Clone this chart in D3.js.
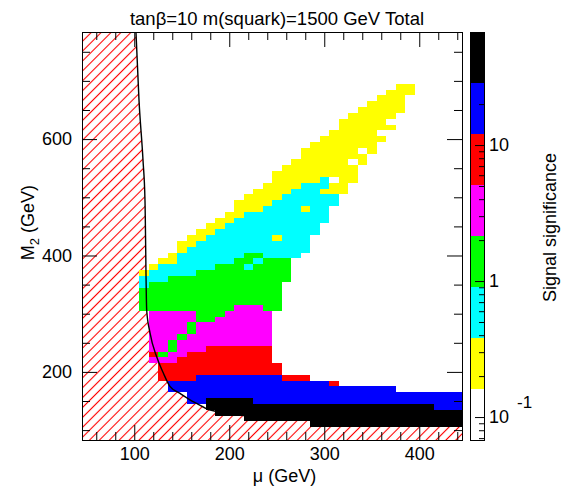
<!DOCTYPE html>
<html>
<head>
<meta charset="utf-8">
<script src="https://cdn.jsdelivr.net/npm/d3@7/dist/d3.min.js"></script>
<style>
body { margin: 0; background: #ffffff; }
text { font-family: "Liberation Sans", Arial, sans-serif; }
</style>
</head>
<body>
<svg></svg>
<script>
/*global d3*/

// 文字
let title = 'tanβ=10 m(squark)=1500 GeV Total';
let xTitle = 'μ (GeV)';
let barTitle = 'Signal significance';

// 颜色分档（信号显著性）
let levelEdges = [0.0678, 0.161, 0.381, 0.904, 2.14, 5.08, 12.05, 28.6, 67.8];
let levelColors = ['#ffffff', '#ffff00', '#00ffff', '#00ff00', '#ff00ff', '#ff0000', '#0000ff', '#000000'];
let levelValues = [0.10, 0.25, 0.59, 1.4, 3.3, 7.8, 18.6, 44];

// 网格行 M2 (GeV)，每格 10 GeV
let rowM2 = [690, 680, 670, 660, 650, 640, 630, 620, 610, 600,
    590, 580, 570, 560, 550, 540, 530, 520, 510, 500,
    490, 480, 470, 460, 450, 440, 430, 420, 410, 400,
    390, 380, 370, 360, 350, 340, 330, 320, 310, 300,
    290, 280, 270, 260, 250, 240, 230, 220, 210, 200,
    190, 180, 170, 160, 150, 140, 130, 120, 110];

// 每行第一格的 μ (GeV)
let rowStartMu = [380, 370, 360, 350, 340, 330, 320, 320, 310, 300,
    290, 280, 280, 270, 260, 250, 250, 240, 230, 220,
    210, 210, 200, 190, 180, 170, 160, 150, 150, 140,
    130, 120, 110, 110, 110, 110, 110, 110, 110, 120,
    120, 120, 120, 120, 120, 120, 120, 120, 130, 130,
    130, 140, 140, 160, 160, 180, 190, 220, 290];

// 每格的显著性档位（'.' 为空）
let rowLevels = [
    '11',
    '111',
    '111',
    '1111',
    '11111',
    '11111',
    '11111',
    '111111',
    '11111',
    '1111111',
    '1111111',
    '111111.1',
    '1111111',
    '111111.1',
    '11111111',
    '111111111',
    '111112.11',
    '111122211',
    '1111222111',
    '1111222222',
    '11112222222',
    '1112222122',
    '11222222222',
    '112222222222',
    '112222222222',
    '1122222222222',
    '1122222221222',
    '11222222222222',
    '12222222222222',
    '12222222332222',
    '11222222332333',
    '122222233323333',
    '1222223333333333',
    '2223333333333333',
    '233333333333333',
    '333333333333333',
    '333333333333333',
    '333333333333333',
    '333333333344433',
    '4444433344444',
    '4444433444444',
    '4444344444444',
    '4444344444444',
    '4443444444444',
    '4434444444444',
    '4434445555555',
    '5344555555555',
    '4445555555555',
    '5555555555555',
    '5555555555555',
    '5555666666666555',
    '666666666666666665',
    '666666666666666666666666',
    '66666666666666666666666666666',
    '66777776666666666666666666666',
    '777777777777777777777777666',
    '77777777777777777777777777',
    '77777777777777777777777',
    '7777777777777777'
];

// LEP 限制曲线
let lepMu = [101.8, 105, 109.2, 111.3, 113.1, 116.6, 123.6, 130.6, 137.6, 148.2, 158.7, 165.7, 180, 232, 306, 445];
let lepM2 = [784, 667, 564, 495, 306, 267, 226, 198, 175, 163, 152, 146, 134.5, 122.5, 115.5, 110.5];

// 刻度
let xMajor = [100, 200, 300, 400];
let xMinor = [60, 80, 120, 140, 160, 180, 220, 240, 260, 280, 320, 340, 360, 380, 420, 440];
let yMajor = [200, 400, 600];
let yMinor = [100, 150, 250, 300, 350, 450, 500, 550, 650, 700, 750];
let barMajor = [0.1, 1, 10];
let barMinor = [0.07, 0.08, 0.09, 0.2, 0.3, 0.4, 0.5, 0.6, 0.7, 0.8, 0.9,
    2, 3, 4, 5, 6, 7, 8, 9, 20, 30, 40, 50, 60];

// 画布
let width = 563;
let height = 488;
let plotLeft = 82, plotRight = 462, plotTop = 32, plotBottom = 440;
let barLeft = 470, barRight = 484;

let svg = d3.select('svg')
    .attr('width', width)
    .attr('height', height);

svg.append('rect').attr('width', width).attr('height', height).attr('fill', '#fff');

// 比例尺
let x = d3.scaleLinear().domain([45, 445]).range([plotLeft, plotRight]);
let y = d3.scaleLinear().domain([83, 784]).range([plotBottom, plotTop]);
let yBar = d3.scaleLog().domain([levelEdges[0], levelEdges[8]]).range([plotBottom, plotTop]);
let color = d3.scaleThreshold().domain(levelEdges.slice(1, 8)).range(levelColors);

let defs = svg.append('defs');
defs.append('clipPath').attr('id', 'plot-clip')
    .append('rect')
    .attr('x', plotLeft).attr('y', plotTop)
    .attr('width', plotRight - plotLeft).attr('height', plotBottom - plotTop);

let hatch = defs.append('pattern')
    .attr('id', 'hatch')
    .attr('patternUnits', 'userSpaceOnUse')
    .attr('width', 7).attr('height', 7)
    .attr('patternTransform', 'rotate(45)');
hatch.append('line')
    .attr('x1', 3.5).attr('y1', 0).attr('x2', 3.5).attr('y2', 7)
    .attr('stroke', '#ff0000').attr('stroke-width', 1.1);

let plot = svg.append('g').attr('clip-path', 'url(#plot-clip)');

// 排除区域（斜线）
let lepPoints = lepMu.map((m, i) => [m, lepM2[i]]);
let lepLine = d3.line().x(d => x(d[0])).y(d => y(d[1])).curve(d3.curveMonotoneX);

plot.append('path')
    .attr('d', lepLine(lepPoints)
        + 'L' + x(445) + ',' + y(83)
        + 'L' + x(45) + ',' + y(83)
        + 'L' + x(45) + ',' + y(784) + 'Z')
    .attr('fill', 'url(#hatch)');

// 网格数据
let cells = [];
rowM2.forEach((m2, r) => {
    rowLevels[r].split('').forEach((c, k) => {
        if (c === '.') {
            return;
        }
        cells.push({mu: rowStartMu[r] + 10 * k, m2: m2, sig: levelValues[+c]});
    });
});

plot.append('g')
    .selectAll('rect')
    .data(cells)
    .enter()
    .append('rect')
    .attr('x', d => x(d.mu - 5))
    .attr('y', d => y(d.m2 + 5))
    .attr('width', d => x(d.mu + 5) - x(d.mu - 5))
    .attr('height', d => y(d.m2 - 5) - y(d.m2 + 5))
    .attr('fill', d => color(d.sig))
    .attr('shape-rendering', 'crispEdges');

// LEP 曲线
plot.append('path')
    .attr('d', lepLine(lepPoints))
    .attr('fill', 'none')
    .attr('stroke', '#000')
    .attr('stroke-width', 1.4);

// 边框
svg.append('rect')
    .attr('x', plotLeft + 0.5).attr('y', plotTop + 0.5)
    .attr('width', plotRight - plotLeft).attr('height', plotBottom - plotTop)
    .attr('fill', 'none').attr('stroke', '#000');

function styleAxis(g) {
    g.select('.domain').remove();
    g.selectAll('line').attr('stroke', '#000');
    g.selectAll('text')
        .attr('font-size', 18)
        .attr('font-family', '"Liberation Sans", Arial, sans-serif')
        .attr('fill', '#000');
}

// 坐标轴（刻度朝内）
svg.append('g').attr('transform', 'translate(0,' + plotBottom + ')')
    .call(d3.axisBottom(x).tickValues(xMajor).tickSize(-15).tickPadding(7).tickFormat(d3.format('d')))
    .call(styleAxis);
svg.append('g').attr('transform', 'translate(0,' + plotBottom + ')')
    .call(d3.axisBottom(x).tickValues(xMinor).tickSize(-8).tickFormat(''))
    .call(styleAxis);
svg.append('g').attr('transform', 'translate(0,' + plotTop + ')')
    .call(d3.axisTop(x).tickValues(xMajor).tickSize(-15).tickFormat(''))
    .call(styleAxis);
svg.append('g').attr('transform', 'translate(0,' + plotTop + ')')
    .call(d3.axisTop(x).tickValues(xMinor).tickSize(-8).tickFormat(''))
    .call(styleAxis);

svg.append('g').attr('transform', 'translate(' + plotLeft + ',0)')
    .call(d3.axisLeft(y).tickValues(yMajor).tickSize(-15).tickPadding(10).tickFormat(d3.format('d')))
    .call(styleAxis);
svg.append('g').attr('transform', 'translate(' + plotLeft + ',0)')
    .call(d3.axisLeft(y).tickValues(yMinor).tickSize(-8).tickFormat(''))
    .call(styleAxis);
svg.append('g').attr('transform', 'translate(' + plotRight + ',0)')
    .call(d3.axisRight(y).tickValues(yMajor).tickSize(-15).tickFormat(''))
    .call(styleAxis);
svg.append('g').attr('transform', 'translate(' + plotRight + ',0)')
    .call(d3.axisRight(y).tickValues(yMinor).tickSize(-8).tickFormat(''))
    .call(styleAxis);

// 标题
svg.append('text')
    .attr('x', 277).attr('y', 25)
    .attr('text-anchor', 'middle')
    .attr('font-size', 18.5)
    .text(title);

svg.append('text')
    .attr('x', 284.5).attr('y', 482)
    .attr('text-anchor', 'middle')
    .attr('font-size', 18)
    .text(xTitle);

let yTitle = svg.append('text')
    .attr('transform', 'translate(34,222.5) rotate(-90)')
    .attr('text-anchor', 'middle')
    .attr('font-size', 18);
yTitle.append('tspan').text('M');
yTitle.append('tspan').attr('font-size', 13).attr('dy', 5).text('2');
yTitle.append('tspan').attr('dy', -5).text(' (GeV)');

// 色标
let bands = levelColors.map((c, i) => ({lo: levelEdges[i], hi: levelEdges[i + 1], color: c}));
svg.append('g')
    .selectAll('rect')
    .data(bands)
    .enter()
    .append('rect')
    .attr('x', barLeft)
    .attr('y', d => yBar(d.hi))
    .attr('width', barRight - barLeft)
    .attr('height', d => yBar(d.lo) - yBar(d.hi))
    .attr('fill', d => d.color)
    .attr('shape-rendering', 'crispEdges');

svg.append('rect')
    .attr('x', barLeft + 0.5).attr('y', plotTop + 0.5)
    .attr('width', barRight - barLeft).attr('height', plotBottom - plotTop)
    .attr('fill', 'none').attr('stroke', '#000');

svg.append('g').attr('transform', 'translate(' + barRight + ',0)')
    .call(d3.axisRight(yBar).tickValues(barMajor).tickSize(-9).tickFormat(''))
    .call(styleAxis);
svg.append('g').attr('transform', 'translate(' + barRight + ',0)')
    .call(d3.axisRight(yBar).tickValues(barMinor).tickSize(-5).tickFormat(''))
    .call(styleAxis);

svg.append('text').attr('x', 489).attr('y', yBar(10)).attr('dy', '0.35em')
    .attr('font-size', 18).text('10');
svg.append('text').attr('x', 489).attr('y', yBar(1)).attr('dy', '0.35em')
    .attr('font-size', 18).text('1');
svg.append('text').attr('x', 489).attr('y', yBar(0.1)).attr('dy', '0.35em')
    .attr('font-size', 18).text('10');
svg.append('text').attr('x', 517).attr('y', yBar(0.1) - 15).attr('dy', '0.35em')
    .attr('font-size', 17).text('-1');

svg.append('text')
    .attr('transform', 'translate(556,227.5) rotate(-90)')
    .attr('text-anchor', 'middle')
    .attr('font-size', 18)
    .text(barTitle);
</script>
</body>
</html>
